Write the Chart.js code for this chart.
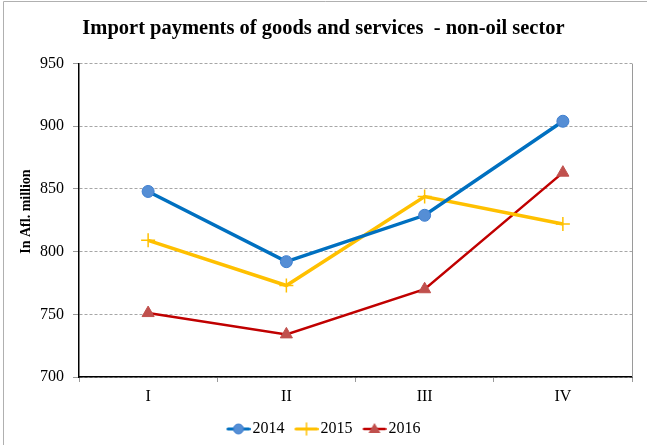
<!DOCTYPE html>
<html><head><meta charset="utf-8">
<script src="https://cdn.jsdelivr.net/npm/chart.js@4"></script>
<style>html,body{margin:0;padding:0;background:#fff}#wrap{width:647px;height:445px;position:relative}</style>
</head><body><div id="wrap"><canvas id="c" width="647" height="445"></canvas></div>
<script>
const categories = ['I', 'II', 'III', 'IV'];
const values2014 = [848, 792, 829, 904];
const values2015 = [809, 773, 844, 822];
const values2016 = [751, 734, 770, 863];
const seriesNames = ['2014', '2015', '2016'];
const yTicks = [700, 750, 800, 850, 900, 950];

const FONT = "'Liberation Serif', 'Times New Roman', serif";

function legendIcon(color, lw, drawMarker) {
  const cv = document.createElement('canvas');
  cv.width = 30; cv.height = 14;
  const g = cv.getContext('2d');
  g.strokeStyle = color; g.lineWidth = lw; g.lineCap = 'round';
  g.beginPath(); g.moveTo(7.5, 7); g.lineTo(28.5, 7); g.stroke();
  drawMarker(g, 18, 7);
  return cv;
}
const icons = [
  legendIcon('#0070C0', 3, (g, x, y) => { g.beginPath(); g.arc(x, y, 5, 0, Math.PI*2); g.fillStyle = '#558ED5'; g.fill(); g.strokeStyle='#3F7FD0'; g.lineWidth=1; g.stroke(); }),
  legendIcon('#FFC000', 3, (g, x, y) => { g.strokeStyle='#FFC000'; g.lineWidth=1.5; g.beginPath(); g.moveTo(x, y-6); g.lineTo(x, y+6); g.stroke(); }),
  legendIcon('#C00000', 2.5, (g, x, y) => { g.beginPath(); g.moveTo(x, y-6); g.lineTo(x+6, y+4); g.lineTo(x-6, y+4); g.closePath(); g.fillStyle='#C0504D'; g.fill(); })
];

const framePlugin = {
  id: 'frame',
  afterDraw(chart) {
    const ctx = chart.ctx, a = chart.chartArea;
    ctx.save();
    ctx.strokeStyle = '#9a9a9a'; ctx.lineWidth = 1;
    ctx.beginPath(); ctx.moveTo(Math.round(a.right) + 0.5, a.top); ctx.lineTo(Math.round(a.right) + 0.5, a.bottom); ctx.stroke();
    ctx.strokeStyle = '#b0b0b0';
    ctx.beginPath(); ctx.moveTo(3.5, 445); ctx.lineTo(3.5, 1.5); ctx.lineTo(647, 1.5); ctx.stroke();
    ctx.restore();
  }
};

new Chart(document.getElementById('c'), {
  type: 'line',
  data: {
    labels: categories,
    datasets: [
      { label: seriesNames[0], data: values2014, borderColor: '#0070C0', borderWidth: 3.5,
        pointStyle: 'circle', pointRadius: 6, pointBackgroundColor: '#558ED5', pointBorderColor: '#3F7FD0', pointBorderWidth: 1, tension: 0 },
      { label: seriesNames[1], data: values2015, borderColor: '#FFC000', borderWidth: 3.5,
        pointStyle: 'cross', pointRadius: 7, pointBorderColor: '#FFC000', pointBorderWidth: 1.5, tension: 0 },
      { label: seriesNames[2], data: values2016, borderColor: '#C00000', borderWidth: 2.5,
        pointStyle: 'triangle', pointRadius: 7, pointBackgroundColor: '#C0504D', pointBorderColor: '#C0504D', pointBorderWidth: 1, tension: 0 }
    ]
  },
  options: {
    responsive: false,
    animation: false,
    layout: { padding: { left: 0, right: 0, top: 0, bottom: -2 } },
    plugins: {
      title: { display: true, text: 'Import payments of goods and services  - non-oil sector',
        color: '#000', font: { family: FONT, size: 20.5, weight: 'bold' }, padding: { top: 16.5, bottom: 22.5 } },
      legend: { position: 'bottom',
        labels: { color: '#000', font: { family: FONT, size: 16 }, usePointStyle: true, pointStyleWidth: 18, padding: 10,
          generateLabels(chart) {
            return chart.data.datasets.map((ds, i) => ({
              text: ds.label, pointStyle: icons[i], fillStyle: ds.borderColor, strokeStyle: ds.borderColor,
              lineWidth: 0, hidden: false, datasetIndex: i, fontColor: '#000'
            }));
          } } },
      tooltip: { enabled: false }
    },
    scales: {
      x: {
        offset: true,
        grid: { offset: true, drawOnChartArea: false, drawTicks: true, tickLength: 5, color: '#9a9a9a' },
        border: { display: true, color: '#000', width: 1.5 },
        ticks: { color: '#000', font: { family: FONT, size: 16 }, padding: 5 },
        afterFit(s) { s.height = 34; }
      },
      y: {
        min: 700, max: 950,
        afterBuildTicks(s) { s.ticks = yTicks.map(v => ({ value: v })); },
        grid: { color: '#a6a6a6', tickLength: 6, drawTicks: true, tickBorderDash: [0, 0], tickColor: '#9a9a9a' },
        border: { display: true, color: '#000', width: 1.5, dash: [3, 2] },
        ticks: { color: '#000', font: { family: FONT, size: 16 }, padding: 9 },
        title: { display: true, text: '     In Afl. million', color: '#000', font: { family: FONT, size: 14, weight: 'bold' }, padding: { top: 18, bottom: 0 } },
        afterFit(s) { s.width = 79; }
      },
      y2: {
        position: 'right', display: true, min: 700, max: 950,
        grid: { display: false, drawTicks: false }, border: { display: false },
        ticks: { display: false },
        afterFit(s) { s.width = 15; }
      }
    }
  },
  plugins: [framePlugin]
});
</script>
</body></html>
